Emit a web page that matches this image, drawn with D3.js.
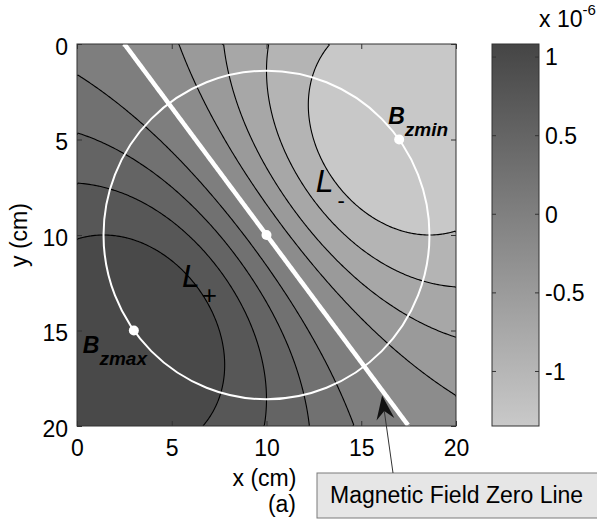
<!DOCTYPE html>
<html>
<head>
<meta charset="utf-8">
<script src="https://cdn.jsdelivr.net/npm/d3@7"></script>
<style>
  body { margin: 0; background: #fff; }
  svg text { font-family: Arial, "Liberation Sans", sans-serif; fill: #000; }
</style>
</head>
<body>
<div id="chart"></div>
<script>
// ticks
const xTicks = [0, 5, 10, 15, 20];
const yTicks = [0, 5, 10, 15, 20];
const cbarTicks = [-1, -0.5, 0, 0.5, 1];
const cbarRange = [-1.35, 1.08]; // x 10^-6

// contour levels of Bz (x 10^-6), zero level drawn as the white line
const levels = [-0.8, -0.6, -0.4, -0.2, 0, 0.2, 0.4, 0.6, 0.8];

// source: zero line through (10,10), extrema on the circle
const dipoleCenter = [10, 10];
const zeroLineDir = [0.6, 0.8];
const extremaRadius = 8.6; // cm
const peakValue = 1.0;     // x 10^-6

// marked points on the circle
const markNames = ["Bzmax", "center", "Bzmin"];
const markX = [3, 10, 17];
const markY = [15, 10, 5];

// arrow tip of the "zero line" callout, in cm
const arrowTip = [16.1, 18.4];

const W = 597, H = 520;
const plot = { left: 77, right: 456, top: 44, bottom: 426 };
const cbar = { left: 492, right: 539 };

// band fills, most negative -> most positive
const bandColors = ["#c8c8c8", "#b4b4b4", "#a7a7a7", "#9a9a9a", "#8c8c8c",
                    "#7e7e7e", "#717171", "#646464", "#575757", "#494949"];

const x = d3.scaleLinear().domain([0, 20]).range([plot.left, plot.right]);
const y = d3.scaleLinear().domain([0, 20]).range([plot.top, plot.bottom]);
const c = d3.scaleLinear().domain(cbarRange).range([plot.bottom, plot.top]);

const svg = d3.select("#chart").append("svg")
  .attr("width", W)
  .attr("height", H);

// sample Bz on cell centres
const n = 200, cell = 20 / n;
const nx = -zeroLineDir[1], ny = zeroLineDir[0];
const depth = extremaRadius * Math.SQRT2;
const g = (dx, dy) => (nx * dx + ny * dy) / Math.pow(dx * dx + dy * dy + depth * depth, 1.5);
const gMax = extremaRadius / Math.pow(extremaRadius * extremaRadius + depth * depth, 1.5);
const values = new Array(n * n);
for (let j = 0; j < n; j++) {
  for (let i = 0; i < n; i++) {
    const px = (i + 0.5) * cell, py = (j + 0.5) * cell;
    values[j * n + i] = peakValue * g(px - dipoleCenter[0], py - dipoleCenter[1]) / gMax;
  }
}

const contours = d3.contours().size([n, n]).thresholds(levels)(values);

const proj = d3.geoTransform({
  point: function(px, py) { this.stream.point(x(px * cell), y(py * cell)); }
});
const path = d3.geoPath(proj);

// contour line path without the parts running along the plot border
function openLines(geom) {
  const onEdge = p => p[0] <= 0 || p[0] >= n || p[1] <= 0 || p[1] >= n;
  let d = "";
  geom.coordinates.forEach(poly => poly.forEach(ring => {
    let pen = false;
    for (let k = 1; k < ring.length; k++) {
      const a = ring[k - 1], b = ring[k];
      if (onEdge(a) && onEdge(b)) { pen = false; continue; }
      if (!pen) { d += `M${x(a[0] * cell)},${y(a[1] * cell)}`; pen = true; }
      d += `L${x(b[0] * cell)},${y(b[1] * cell)}`;
    }
  }));
  return d;
}

svg.append("clipPath").attr("id", "plot-clip")
  .append("rect")
  .attr("x", plot.left).attr("y", plot.top)
  .attr("width", plot.right - plot.left)
  .attr("height", plot.bottom - plot.top);

const map = svg.append("g").attr("clip-path", "url(#plot-clip)");

map.append("rect")
  .attr("x", plot.left).attr("y", plot.top)
  .attr("width", plot.right - plot.left)
  .attr("height", plot.bottom - plot.top)
  .attr("fill", bandColors[0]);

map.selectAll("path.band")
  .data(contours)
  .enter()
  .append("path")
  .attr("class", "band")
  .attr("d", path)
  .attr("fill", (d, i) => bandColors[i + 1]);

map.selectAll("path.iso")
  .data(contours.filter(d => d.value !== 0))
  .enter()
  .append("path")
  .attr("class", "iso")
  .attr("d", openLines)
  .attr("fill", "none")
  .attr("stroke", "#000")
  .attr("stroke-width", 1.1);

// magnetic field zero line
map.append("path")
  .attr("d", openLines(contours.find(d => d.value === 0)))
  .attr("fill", "none")
  .attr("stroke", "#fff")
  .attr("stroke-width", 4.5);

// circle through the extrema
map.append("ellipse")
  .attr("cx", x(dipoleCenter[0]))
  .attr("cy", y(dipoleCenter[1]))
  .attr("rx", x(extremaRadius) - x(0))
  .attr("ry", y(extremaRadius) - y(0))
  .attr("fill", "none")
  .attr("stroke", "#fff")
  .attr("stroke-width", 2);

map.selectAll("circle.mark")
  .data(markNames)
  .enter()
  .append("circle")
  .attr("class", "mark")
  .attr("cx", (d, i) => x(markX[i]))
  .attr("cy", (d, i) => y(markY[i]))
  .attr("r", 5)
  .attr("fill", "#fff");

// B labels
function bLabel(name, sub, dx, dy) {
  const i = markNames.indexOf(name);
  const t = svg.append("text")
    .attr("x", x(markX[i]) + dx)
    .attr("y", y(markY[i]) + dy)
    .style("font-weight", "bold")
    .style("font-style", "italic");
  t.append("tspan").style("font-size", "23px").text("B");
  t.append("tspan").attr("dy", 12).style("font-size", "19px").text(sub);
}
bLabel("Bzmin", "zmin", -11, -16);
bLabel("Bzmax", "zmax", -51, 22);

// L- and L+ lobes
function lLabel(cx, cy, sign, sx, sy, size) {
  const t = svg.append("text")
    .attr("x", x(cx)).attr("y", y(cy))
    .style("font-style", "italic");
  t.append("tspan").style("font-size", "32px").text("L");
  t.append("tspan")
    .attr("dx", sx).attr("dy", sy)
    .style("font-size", size).style("font-style", "normal")
    .text(sign);
}
lLabel(12.6, 7.75, "-", 4, 16, "22px");
lLabel(5.54, 12.7, "+", 2, 17, "26px");

// axes
const tickColor = "#333";
function styleAxis(gr) {
  gr.select(".domain").remove();
  gr.selectAll(".tick line").attr("stroke", tickColor);
  gr.selectAll(".tick text").style("font-size", "23px").attr("fill", "#000");
}

svg.append("g")
  .attr("transform", `translate(0,${plot.bottom})`)
  .call(d3.axisBottom(x).tickValues(xTicks).tickSize(-5).tickPadding(13.5).tickFormat(d3.format("d")))
  .call(styleAxis);

svg.append("g")
  .attr("transform", `translate(0,${plot.top})`)
  .call(d3.axisTop(x).tickValues(xTicks).tickSize(-5).tickFormat(""))
  .call(styleAxis);

svg.append("g")
  .attr("transform", `translate(${plot.left},0)`)
  .call(d3.axisLeft(y).tickValues(yTicks).tickSize(-5).tickPadding(9).tickFormat(d3.format("d")))
  .call(styleAxis)
  .selectAll(".tick text").attr("dy", "0.45em");

svg.append("g")
  .attr("transform", `translate(${plot.right},0)`)
  .call(d3.axisRight(y).tickValues(yTicks).tickSize(-5).tickFormat(""))
  .call(styleAxis);

svg.append("rect")
  .attr("x", plot.left).attr("y", plot.top)
  .attr("width", plot.right - plot.left)
  .attr("height", plot.bottom - plot.top)
  .attr("fill", "none")
  .attr("stroke", tickColor)
  .attr("stroke-width", 1);

svg.append("text")
  .attr("x", (plot.left + plot.right) / 2 - 2)
  .attr("y", 486)
  .attr("text-anchor", "middle")
  .style("font-size", "23px")
  .text("x (cm)");

svg.append("text")
  .attr("x", 296)
  .attr("y", 512)
  .attr("text-anchor", "end")
  .style("font-size", "23px")
  .text("(a)");

svg.append("text")
  .attr("transform", `translate(27,${(plot.top + plot.bottom) / 2}) rotate(-90)`)
  .attr("text-anchor", "middle")
  .style("font-size", "23px")
  .text("y (cm)");

// colorbar
const grad = svg.append("defs").append("linearGradient")
  .attr("id", "cbar-grad")
  .attr("x1", 0).attr("y1", 0).attr("x2", 0).attr("y2", 1);
grad.append("stop").attr("offset", "0%").attr("stop-color", "#454545");
grad.append("stop").attr("offset", "100%").attr("stop-color", "#c9c9c9");

svg.append("rect")
  .attr("x", cbar.left).attr("y", plot.top)
  .attr("width", cbar.right - cbar.left)
  .attr("height", plot.bottom - plot.top)
  .attr("fill", "url(#cbar-grad)");

svg.append("g")
  .attr("transform", `translate(${cbar.right},0)`)
  .call(d3.axisRight(c).tickValues(cbarTicks).tickSize(-4).tickPadding(6).tickFormat(d => String(d)))
  .call(styleAxis)
  .selectAll(".tick text").attr("dy", "0.36em");

svg.append("g")
  .attr("transform", `translate(${cbar.left},0)`)
  .call(d3.axisLeft(c).tickValues(cbarTicks).tickSize(-4).tickFormat(""))
  .call(styleAxis);

svg.append("rect")
  .attr("x", cbar.left).attr("y", plot.top)
  .attr("width", cbar.right - cbar.left)
  .attr("height", plot.bottom - plot.top)
  .attr("fill", "none")
  .attr("stroke", tickColor);

const expo = svg.append("text")
  .attr("x", cbar.right)
  .attr("y", 27)
  .style("font-size", "23px");
expo.append("tspan").text("x 10");
expo.append("tspan").attr("dy", -12).style("font-size", "15px").text("-6");

// callout box and arrow
const box = { x: 317, y: 473, w: 282, h: 45 };
svg.append("rect")
  .attr("x", box.x).attr("y", box.y)
  .attr("width", box.w).attr("height", box.h)
  .attr("fill", "#e6e6e6")
  .attr("stroke", "#7a7a7a");

svg.append("text")
  .attr("x", box.x + 13)
  .attr("y", box.y + 30)
  .style("font-size", "23px")
  .text("Magnetic Field Zero Line");

const tail = [393, box.y];
const tip = [x(arrowTip[0]), y(arrowTip[1])];
const len = Math.hypot(tip[0] - tail[0], tip[1] - tail[1]);
const ux = (tip[0] - tail[0]) / len, uy = (tip[1] - tail[1]) / len;
const headL = 24, headW = 18;
const back = [tip[0] - ux * headL, tip[1] - uy * headL];
const notch = [tip[0] - ux * headL * 0.65, tip[1] - uy * headL * 0.65];

svg.append("line")
  .attr("x1", tail[0]).attr("y1", tail[1])
  .attr("x2", notch[0]).attr("y2", notch[1])
  .attr("stroke", "#333")
  .attr("stroke-width", 1);

svg.append("path")
  .attr("d", d3.line()([
    tip,
    [back[0] - uy * headW / 2, back[1] + ux * headW / 2],
    notch,
    [back[0] + uy * headW / 2, back[1] - ux * headW / 2]
  ]) + "Z")
  .attr("fill", "#111");
</script>
</body>
</html>
